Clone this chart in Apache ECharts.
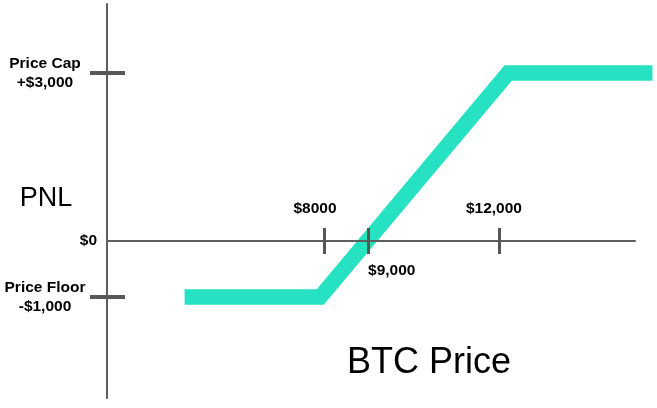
<!DOCTYPE html>
<html>
<head>
<meta charset="utf-8">
<script src="https://cdn.jsdelivr.net/npm/echarts@6/dist/echarts.min.js"></script>
<style>
  html, body { margin: 0; padding: 0; background: #fff; }
  #chart { width: 657px; height: 408px; }
</style>
</head>
<body>
<div id="chart"></div>
<script>
// ---- data ----
const btcPrice = [4800, 7900, 12200, 15500];
const pnl = [-1000, -1000, 3000, 3000];

const xTickValues = [8000, 9000, 12000];
const xLabelValues = [8000, 9000, 12000];
const xLabelTexts = ['$8000', '$9,000', '$12,000'];

const yTickValues = [-1000, 3000];
const yLabelValues = [-1000, 3000];
const yLabelTexts = ['Price Floor\n-$1,000', 'Price Cap\n+$3,000'];
const yZeroLabelValues = [0];
const yZeroLabelTexts = ['$0'];

const yAxisName = 'PNL';
const xAxisName = 'BTC Price';

// ---- styling (positions / sizes) ----
const FONT = 'Liberation Sans, Arial, Helvetica, sans-serif';
const AXIS_COLOR = '#5f5f5f';
const TICK_COLOR = '#575757';
const LINE_COLOR = '#26E1C2';
const xLabelOffsets = [[-9.5, -32], [23.5, 30], [-5.5, -32]];

// axis extents (same px-per-unit in both grids)
const X_MIN = 3025, X_MAX_AXIS = 15100, X_MAX_LINE = 15512;
const Y_MIN = -2800, Y_MAX = 4230;

function lookup(values, texts) {
  return function (v) {
    const i = values.indexOf(Number(v));
    return i >= 0 ? texts[i] : '';
  };
}

const chart = echarts.init(document.getElementById('chart'), null, { renderer: 'canvas' });

const hiddenAxis = {
  show: false, splitLine: { show: false }, axisLine: { show: false },
  axisTick: { show: false }, axisLabel: { show: false }
};

const option = {
  animation: false,
  backgroundColor: '#ffffff',
  grid: [
    { left: 107, right: 22, top: 4, bottom: 10, containLabel: false, outerBoundsMode: 'none' },
    { left: 107, right: 4, top: 4, bottom: 10, containLabel: false, outerBoundsMode: 'none' }
  ],
  xAxis: [
    {
      gridIndex: 0, type: 'value', position: 'top', min: X_MIN, max: X_MAX_AXIS, z: 5,
      splitLine: { show: false },
      axisLine: { show: true, onZero: true, onZeroAxisIndex: 0, lineStyle: { color: AXIS_COLOR, width: 2 } },
      axisTick: { show: true, inside: false, length: 13, customValues: xTickValues, lineStyle: { color: TICK_COLOR, width: 3 } },
      axisLabel: { show: false }
    },
    {
      gridIndex: 0, type: 'value', position: 'bottom', min: X_MIN, max: X_MAX_AXIS, z: 5,
      splitLine: { show: false },
      axisLine: { show: false, onZero: true, onZeroAxisIndex: 1 },
      axisTick: { show: true, inside: false, length: 13, customValues: xTickValues, lineStyle: { color: TICK_COLOR, width: 3 } },
      axisLabel: { show: false }
    },
    Object.assign({ gridIndex: 1, type: 'value', min: X_MIN, max: X_MAX_LINE }, hiddenAxis)
  ],
  yAxis: [
    {
      gridIndex: 0, type: 'value', position: 'left', min: Y_MIN, max: Y_MAX, z: 5,
      splitLine: { show: false },
      axisLine: { show: true, onZero: false, lineStyle: { color: AXIS_COLOR, width: 2 } },
      axisTick: { show: true, inside: false, length: 17, customValues: yTickValues, lineStyle: { color: TICK_COLOR, width: 4 } },
      axisLabel: {
        show: true, margin: 62, align: 'center', customValues: yLabelValues,
        formatter: lookup(yLabelValues, yLabelTexts),
        fontFamily: FONT, fontSize: 15.5, fontWeight: 'bold', color: '#000', lineHeight: 19
      }
    },
    {
      gridIndex: 0, type: 'value', position: 'left', min: Y_MIN, max: Y_MAX, z: 5,
      splitLine: { show: false },
      axisLine: { show: false, onZero: false },
      axisTick: { show: true, inside: true, length: 18, customValues: yTickValues, lineStyle: { color: TICK_COLOR, width: 4 } },
      axisLabel: {
        show: true, margin: 10, align: 'right', customValues: yZeroLabelValues,
        formatter: lookup(yZeroLabelValues, yZeroLabelTexts),
        fontFamily: FONT, fontSize: 15.5, fontWeight: 'bold', color: '#000'
      }
    },
    Object.assign({ gridIndex: 1, type: 'value', min: Y_MIN, max: Y_MAX }, hiddenAxis)
  ],
  graphic: [
    {
      type: 'text', x: 46, y: 199, silent: true,
      style: { text: yAxisName, fontFamily: FONT, fontSize: 27, fill: '#000', align: 'center', verticalAlign: 'middle' }
    },
    {
      type: 'text', x: 429, y: 363, silent: true,
      style: { text: xAxisName, fontFamily: FONT, fontSize: 36, fill: '#000', align: 'center', verticalAlign: 'middle' }
    }
  ],
  series: [
    {
      type: 'line',
      xAxisIndex: 2, yAxisIndex: 2,
      data: btcPrice.map(function (x, i) { return [x, pnl[i]]; }),
      showSymbol: false, symbol: 'none',
      clip: false, silent: true,
      lineStyle: { color: LINE_COLOR, width: 15.5, join: 'miter', cap: 'butt', miterLimit: 10 },
      z: 2
    },
    {
      type: 'scatter',
      xAxisIndex: 0, yAxisIndex: 0,
      symbolSize: 0, silent: true, z: 6,
      itemStyle: { color: '#000', opacity: 1 },
      data: xLabelValues.map(function (x, i) {
        return { value: [x, 0], label: { offset: xLabelOffsets[i] } };
      }),
      label: {
        show: true, position: [0, 0],
        formatter: function (p) { return xLabelTexts[p.dataIndex]; },
        fontFamily: FONT, fontSize: 15.5, fontWeight: 'bold', color: '#000', opacity: 1,
        textBorderWidth: 0, textShadowBlur: 0,
        align: 'center', verticalAlign: 'middle'
      }
    }
  ]
};

chart.setOption(option);
</script>
</body>
</html>
